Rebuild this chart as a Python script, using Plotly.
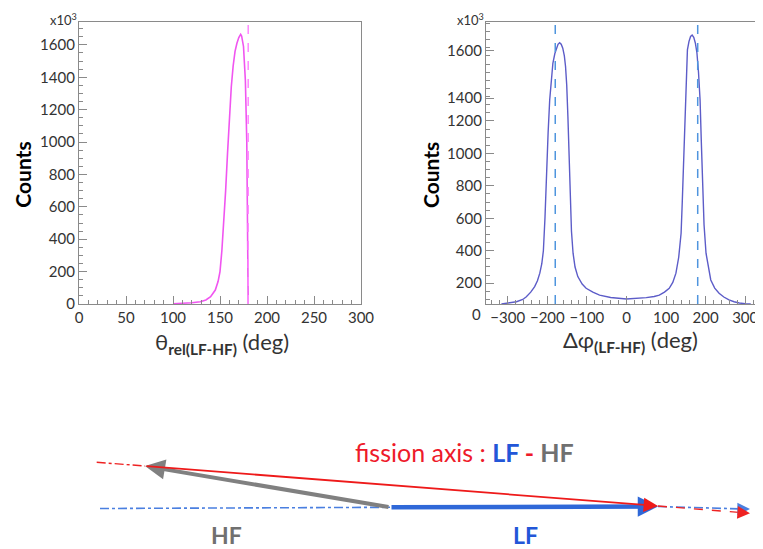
import plotly.graph_objects as go

# ---------------- data ----------------
theta_deg = [100, 110, 120, 129, 135, 140, 145, 148, 150, 152, 154, 156, 158, 160, 162, 164,
             166, 168, 170, 172, 173, 175, 177, 178.5, 179.5, 180]
theta_counts = [2, 4, 8, 14, 25, 45, 86, 140, 200, 330, 500, 700, 930, 1150, 1340, 1470,
                1560, 1610, 1645, 1665, 1655, 1590, 1380, 1000, 500, 0]

phi_deg = [-316, -295, -278, -262, -253, -242, -232, -225, -219, -214, -210, -206, -202, -198,
           -194, -190, -186, -181, -177, -173, -169, -165, -161, -157, -154, -151, -148, -145,
           -142, -139, -135, -130, -123, -112, -102, -85, -68, -40, 0, 30, 50, 70, 83, 96,
           108, 117, 125, 132, 138, 141, 144, 146, 149, 152, 154, 158, 162, 166, 170, 174,
           178, 182, 186, 189, 192, 196, 201, 207, 213, 223, 234, 246, 259, 272, 285, 300, 314]
phi_counts = [72, 78, 86, 100, 117, 145, 179, 215, 262, 320, 400, 600, 900, 1130,
              1330, 1460, 1555, 1615, 1650, 1672, 1682, 1672, 1648, 1600, 1535, 1420, 1226, 1000,
              713, 520, 385, 300, 241, 195, 169, 145, 127, 112, 103, 105, 111, 118, 127, 145,
              169, 205, 262, 360, 508, 700, 918, 1130, 1329, 1500, 1637, 1690, 1720, 1729, 1715, 1680,
              1620, 1500, 1329, 1080, 816, 560, 385, 290, 220, 170, 138, 115, 97, 86, 78, 74, 72]

theta_ref_line = [180]
phi_ref_lines = [-180, 180]

phi_ytick_text = ["200", "400", "600", "800", "1000", "1200", "1400", "1600"]
phi_ytick_pos = [200, 400, 600, 800, 1000, 1200, 1340, 1633]

# diagram geometry (illustration, page pixels)
diag_gray_tail = (390, 507.3)
diag_gray_tip = (145, 466)
diag_red_tip = (658, 506)
diag_blue_tip = (658, 506.5)
diag_red_ext_start = (96.7, 462.3)
diag_red_ext_end = (750, 513.3)
diag_blue_ext_start = (100, 508.5)
diag_blue_ext_end = (750, 509)

PAGE_W, PAGE_H = 763, 549
OFF = 8  # default body margin of the html page
W, H = PAGE_W - OFF, PAGE_H - OFF
FONT = "Lato"
AX_COL = "#8a8a8a"
TXT = "#333333"


def PX(x):
    return (x - OFF) / W


def PY(y):
    return (H - (y - OFF)) / H


fig = go.Figure()

fig.add_trace(go.Scatter(x=theta_deg, y=theta_counts, mode="lines",
                         line=dict(color="#f055f0", width=1.6), xaxis="x", yaxis="y",
                         showlegend=False, hoverinfo="skip"))
for v in theta_ref_line:
    fig.add_shape(type="line", xref="x", yref="y domain", x0=v, x1=v, y0=0, y1=1,
                  line=dict(color="#ff88ff", width=1.5, dash="dash"))

fig.add_trace(go.Scatter(x=phi_deg, y=phi_counts, mode="lines",
                         line=dict(color="#5c5cc8", width=1.4), xaxis="x2", yaxis="y2",
                         showlegend=False, hoverinfo="skip"))
for v in phi_ref_lines:
    fig.add_shape(type="line", xref="x2", yref="y2 domain", x0=v, x1=v, y0=0, y1=1,
                  line=dict(color="#4f95de", width=1.5, dash="dash"))

y0d = PY(304)
y1d = PY(21.7)


def ax(**extra):
    d = dict(ticks="inside", ticklen=8, tickwidth=1, tickcolor=AX_COL,
             showline=True, linecolor=AX_COL, linewidth=1.2,
             showgrid=False, zeroline=False, automargin=False,
             ticklabeloverflow="allow",
             tickfont=dict(family=FONT, size=15, color=TXT))
    d.update(extra)
    return d


def minor(dt):
    return dict(ticks="inside", ticklen=4, tickmode="linear", dtick=dt, tick0=0,
                tickcolor=AX_COL, showgrid=False)


fig.update_layout(
    width=W, height=H, margin=dict(l=0, r=0, t=0, b=0, autoexpand=False),
    paper_bgcolor="white", plot_bgcolor="white",
    xaxis=ax(domain=[PX(79), PX(361)], range=[0, 300], anchor="y",
             tickmode="linear", tick0=0, dtick=50, mirror=True, minor=minor(10)),
    yaxis=ax(domain=[y0d, y1d], range=[0, 1743], anchor="x",
             tickmode="linear", tick0=0, dtick=200, mirror=True, minor=minor(50)),
    xaxis2=ax(domain=[PX(486), 1.0], range=[-355, 345], anchor="y2",
              tickmode="linear", tick0=0, dtick=100, mirror=True, minor=minor(20)),
    yaxis2=ax(domain=[y0d, y1d], range=[72, 1811], anchor="x2",
              tickmode="array", tickvals=phi_ytick_pos, ticktext=phi_ytick_text,
              mirror=False, minor=minor(50)),
)

ann = []


def T(text, x, y, size, color=TXT, angle=0):
    ann.append(dict(text=text, x=PX(x), y=PY(y), xref="paper", yref="paper",
                    xanchor="center", yanchor="middle", showarrow=False, textangle=angle,
                    font=dict(family=FONT, size=size, color=color)))


# axis titles / labels
T("<b>Counts</b>", 21.7, 175, 21, "black", -90)
T("<b>Counts</b>", 430, 175, 21, "black", -90)
T("θ<sub><b>rel(LF-HF)</b></sub> (deg)", 221.7, 343, 22)
T("Δφ<sub><b>(LF-HF)</b></sub> (deg)", 630, 341, 22)
T("x10<sup>3</sup>", 63, 19, 13)
T("x10<sup>3</sup>", 470, 19, 13)
T("0", 476.7, 314, 15)


def seg(a, b, color, width, dash):
    fig.add_shape(type="line", xref="paper", yref="paper", x0=PX(a[0]), y0=PY(a[1]),
                  x1=PX(b[0]), y1=PY(b[1]), line=dict(color=color, width=width, dash=dash))


def arrow(tail, tip, color, width, size):
    ann.append(dict(text="", x=PX(tip[0]), y=PY(tip[1]), ax=tail[0] - tip[0], ay=tail[1] - tip[1],
                    xref="paper", yref="paper", axref="pixel", ayref="pixel", showarrow=True,
                    arrowhead=2, arrowsize=size, arrowwidth=width, arrowcolor=color,
                    standoff=0, startstandoff=0))


seg(diag_blue_ext_start, diag_gray_tail, "#4a7fe0", 1.6, "dashdot")
seg(diag_red_ext_start, diag_gray_tip, "#ee2222", 1.4, "dashdot")
seg(diag_blue_tip, (diag_blue_ext_end[0] - 6, diag_blue_ext_end[1]), "#4a7fe0", 1.6, "dashdot")
seg(diag_red_tip, (diag_red_ext_end[0] - 6, diag_red_ext_end[1] - 0.5), "#ee2222", 1.4, "dash")

arrow(diag_gray_tail, diag_gray_tip, "#808080", 4, 1.0)
arrow(diag_gray_tail, diag_blue_tip, "#2f68d8", 4.5, 0.9)
arrow(diag_gray_tip, diag_red_tip, "#ee1a1a", 1.8, 1.6)
arrow((diag_blue_ext_end[0] - 8, diag_blue_ext_end[1]), diag_blue_ext_end, "#4a7fe0", 1.4, 1.8)
arrow((diag_red_ext_end[0] - 8, diag_red_ext_end[1] - 0.6), diag_red_ext_end, "#ee2222", 1.4, 1.8)

T("<span style='color:#ee1a2a'>fission axis : </span><b><span style='color:#2256d8'>LF</span></b>"
  "<b><span style='color:#ee1a2a'> - </span></b><b><span style='color:#707070'>HF</span></b>",
  465, 451.7, 25)
T("<b>HF</b>", 226.7, 535, 23, "#707070")
T("<b>LF</b>", 525, 535, 23, "#2256d8")

fig.update_layout(annotations=ann)
fig.write_html("out.html")
